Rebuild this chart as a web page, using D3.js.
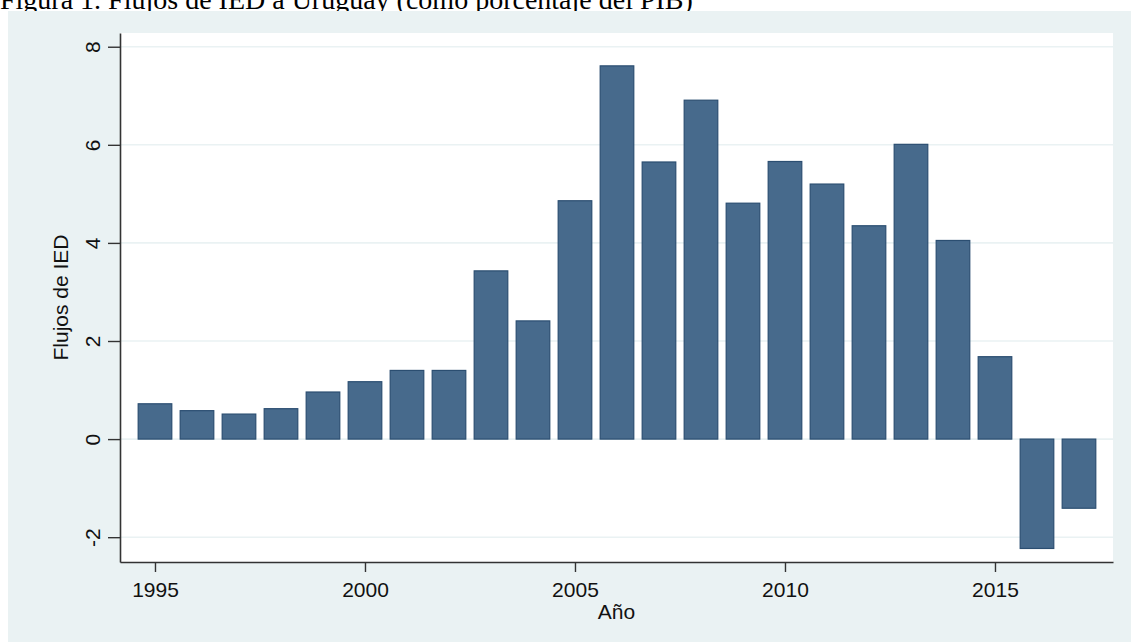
<!DOCTYPE html>
<html>
<head>
<meta charset="utf-8">
<script src="https://cdn.jsdelivr.net/npm/d3@7"></script>
<style>
  html, body { margin: 0; padding: 0; background: #ffffff; }
  svg { display: block; }
</style>
</head>
<body>
<svg width="1131" height="642"></svg>
<script>
// ---- Datos
const anios = [1995, 1996, 1997, 1998, 1999, 2000, 2001, 2002, 2003, 2004, 2005, 2006,
  2007, 2008, 2009, 2010, 2011, 2012, 2013, 2014, 2015, 2016, 2017];
const flujosIED = [0.72, 0.58, 0.51, 0.62, 0.96, 1.17, 1.40, 1.40, 3.43, 2.41, 4.86, 7.61,
  5.65, 6.91, 4.81, 5.66, 5.20, 4.35, 6.01, 4.05, 1.68, -2.23, -1.41];
const ticksY = [-2, 0, 2, 4, 6, 8];
const ticksX = [1995, 2000, 2005, 2010, 2015];
const titulo = 'Figura 1. Flujos de IED a Uruguay (como porcentaje del PIB)';
const tituloY = 'Flujos de IED';
const tituloX = 'Año';

const svg = d3.select('svg');
const width = parseFloat(svg.attr('width'));
const height = parseFloat(svg.attr('height'));

const margens = { left: 120, right: 18, top: 33, bottom: 80 };
const innerWidth = width - margens.left - margens.right;
const innerHeight = height - margens.top - margens.bottom;

const fonte = '"Liberation Sans", Arial, sans-serif';

// ---- Título del documento (queda parcialmente tapado por la figura)
svg.append('text')
  .attr('x', 0)
  .attr('y', 9)
  .style('font-family', '"Liberation Serif", "Times New Roman", serif')
  .style('font-size', '28px')
  .attr('fill', '#000')
  .text(titulo);

// ---- Fondo de la figura
svg.append('rect')
  .attr('x', 8)
  .attr('y', 11)
  .attr('width', width - 8)
  .attr('height', height - 11)
  .attr('fill', '#eaf2f3');

const g = svg.append('g')
  .attr('transform', `translate(${margens.left}, ${margens.top})`);

g.append('rect')
  .attr('width', innerWidth)
  .attr('height', innerHeight)
  .attr('fill', '#ffffff');

// ---- Escalas
const x = d3.scaleLinear()
  .domain([1994.167, 2017.81])
  .range([0, innerWidth]);

const y = d3.scaleLinear()
  .domain([-2.506, 8.28])
  .range([innerHeight, 0]);

// ---- Líneas de grilla
g.selectAll('.grilla')
  .data(ticksY)
  .enter()
  .append('line')
  .attr('class', 'grilla')
  .attr('x1', 0)
  .attr('x2', innerWidth)
  .attr('y1', d => y(d))
  .attr('y2', d => y(d))
  .attr('stroke', '#eaf2f3')
  .attr('stroke-width', 1.6);

// ---- Barras
const anchoBarra = 0.8;
g.selectAll('.barra')
  .data(anios.map((a, i) => ({ anio: a, valor: flujosIED[i] })))
  .enter()
  .append('rect')
  .attr('class', 'barra')
  .attr('x', d => x(d.anio - anchoBarra / 2))
  .attr('width', d => x(d.anio + anchoBarra / 2) - x(d.anio - anchoBarra / 2))
  .attr('y', d => y(Math.max(0, d.valor)))
  .attr('height', d => Math.abs(y(d.valor) - y(0)))
  .attr('fill', '#476a8c')
  .attr('stroke', '#2b4e71')
  .attr('stroke-width', 1.2);

// ---- Ejes (con guion simple como en Stata)
const ejeY = d3.axisLeft(y)
  .tickValues(ticksY)
  .tickFormat(d => String(d))
  .tickSize(12)
  .tickSizeOuter(0);

const gy = g.append('g')
  .attr('class', 'eje-y')
  .call(ejeY);

gy.selectAll('text')
  .attr('x', 0)
  .attr('y', 0)
  .attr('dy', 0)
  .attr('transform', 'translate(-20, 0) rotate(-90)')
  .attr('text-anchor', 'middle');

const ejeX = d3.axisBottom(x)
  .tickValues(ticksX)
  .tickFormat(d => String(d))
  .tickSize(10)
  .tickSizeOuter(0);

const gx = g.append('g')
  .attr('class', 'eje-x')
  .attr('transform', `translate(0, ${innerHeight})`)
  .call(ejeX);

gx.selectAll('text')
  .attr('y', 34.7)
  .attr('dy', 0);

[gx, gy].forEach(eixo => {
  eixo.select('.domain').attr('stroke', '#333').attr('stroke-width', 1.6);
  eixo.selectAll('.tick line').attr('stroke', '#333').attr('stroke-width', 1.4);
  eixo.selectAll('text')
    .attr('fill', '#111')
    .style('font-family', fonte)
    .style('font-size', '21px');
});

// ---- Títulos de ejes
g.append('text')
  .attr('x', innerWidth / 2)
  .attr('y', innerHeight + 56.7)
  .attr('text-anchor', 'middle')
  .attr('fill', '#111')
  .style('font-family', fonte)
  .style('font-size', '21px')
  .text(tituloX);

g.append('text')
  .attr('transform', 'rotate(-90)')
  .attr('x', -innerHeight / 2)
  .attr('y', -52)
  .attr('text-anchor', 'middle')
  .attr('fill', '#111')
  .style('font-family', fonte)
  .style('font-size', '21px')
  .text(tituloY);
</script>
</body>
</html>
